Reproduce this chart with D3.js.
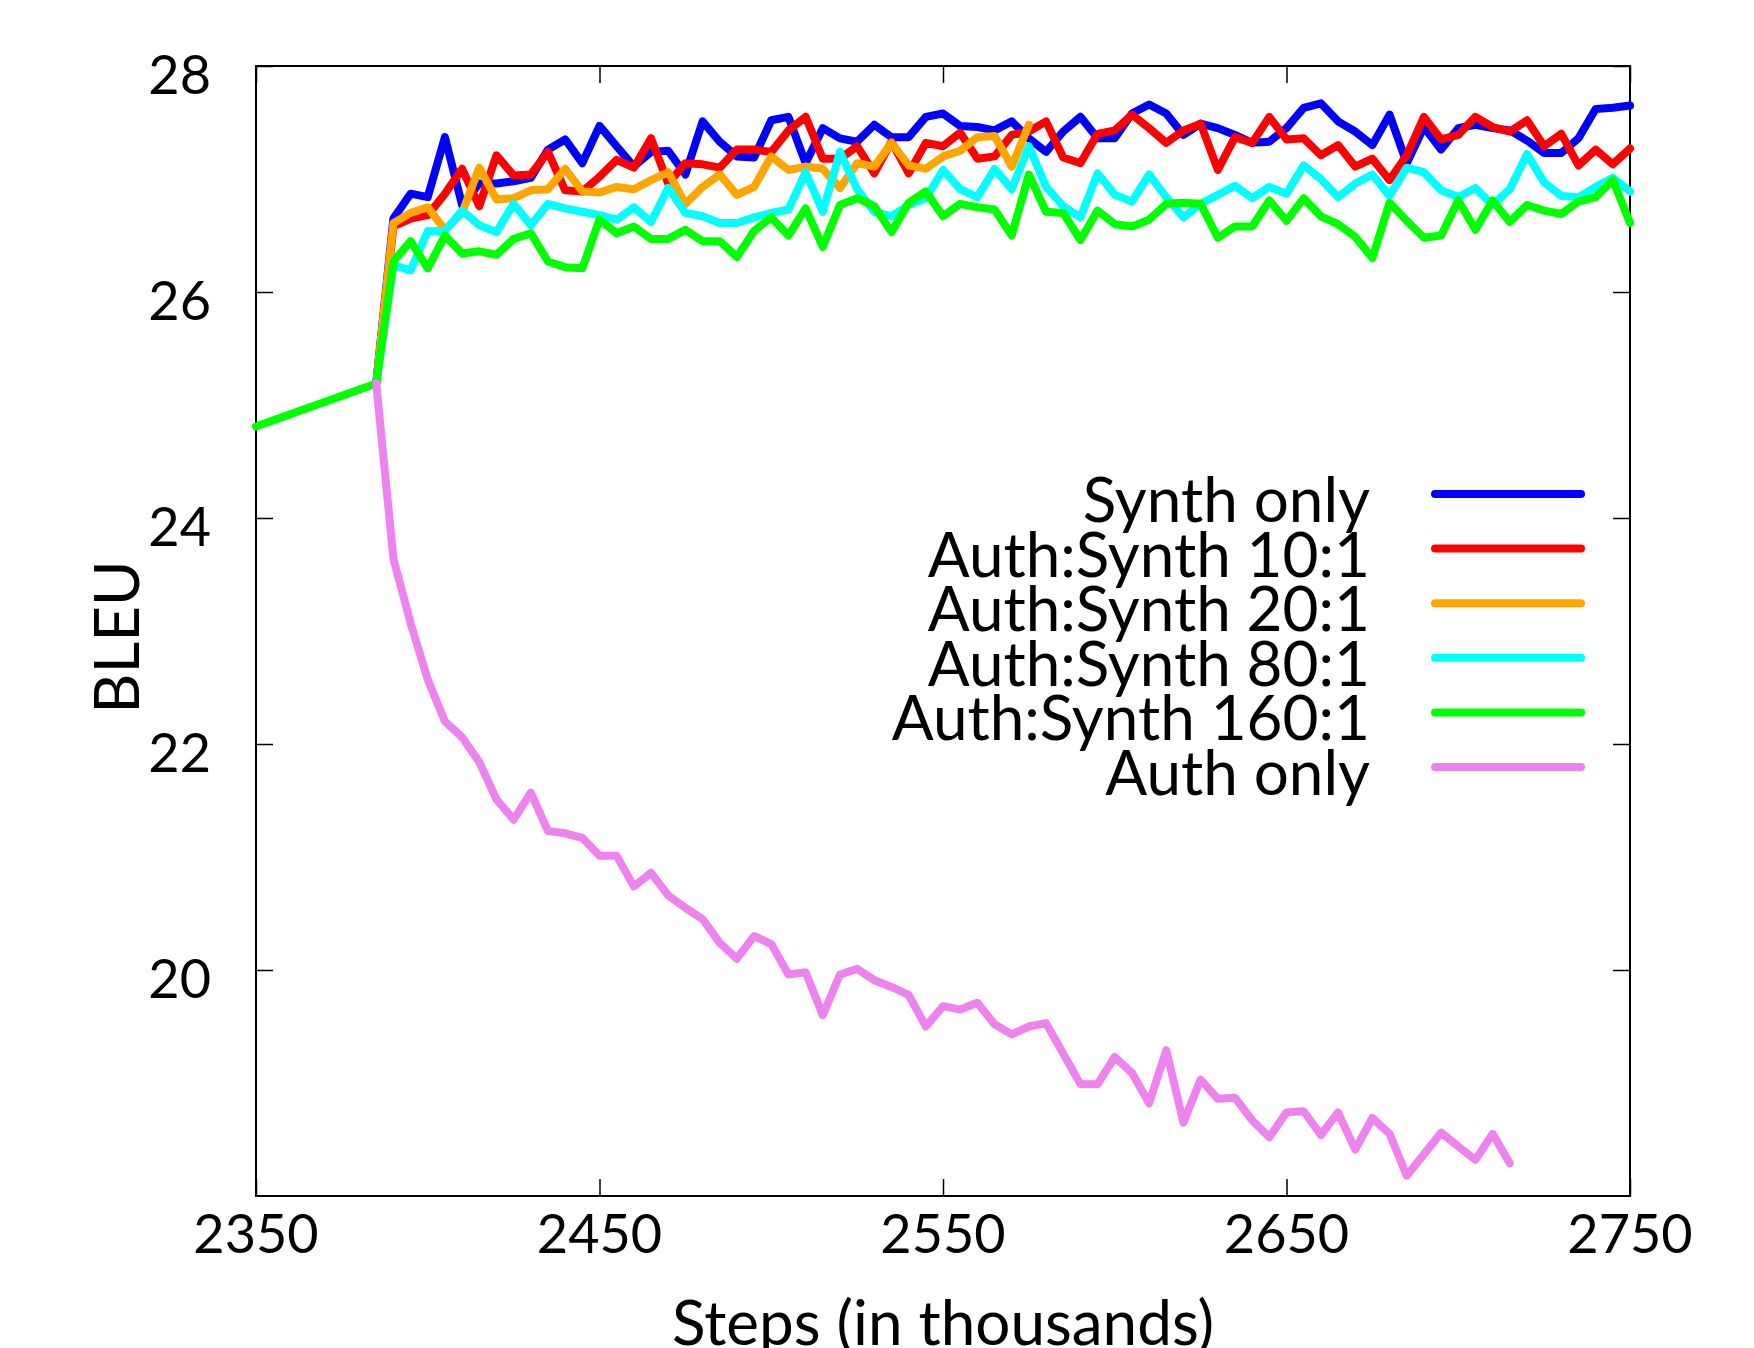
<!DOCTYPE html>
<html>
<head>
<meta charset="utf-8">
<script src="https://cdnjs.cloudflare.com/ajax/libs/d3/7.8.5/d3.min.js"></script>
<style>
    body { margin: 0; background: #ffffff; }
    text { font-family: Lato, "Open Sans", sans-serif; fill: #000000; }
</style>
</head>
<body>
<svg id="chart" width="1754" height="1348"></svg>
<script>
// steps in thousands, first point only used by the 160:1 run
var steps = [2350,
    2385, 2390, 2395, 2400, 2405, 2410, 2415, 2420, 2425, 2430, 2435, 2440, 2445, 2450,
    2455, 2460, 2465, 2470, 2475, 2480, 2485, 2490, 2495, 2500, 2505, 2510, 2515, 2520,
    2525, 2530, 2535, 2540, 2545, 2550, 2555, 2560, 2565, 2570, 2575, 2580, 2585, 2590,
    2595, 2600, 2605, 2610, 2615, 2620, 2625, 2630, 2635, 2640, 2645, 2650, 2655, 2660,
    2665, 2670, 2675, 2680, 2685, 2690, 2695, 2700, 2705, 2710, 2715, 2720, 2725, 2730,
    2735, 2740, 2745, 2750];

var synthOnly = [null,
    25.19, 26.65, 26.87, 26.84, 27.37, 26.77, 26.96, 26.96, 26.98, 27.01, 27.26, 27.35, 27.14, 27.47,
    27.29, 27.11, 27.24, 27.25, 27.04, 27.51, 27.33, 27.20, 27.19, 27.52, 27.55, 27.14, 27.45, 27.36,
    27.33, 27.48, 27.37, 27.37, 27.55, 27.58, 27.47, 27.46, 27.43, 27.51, 27.36, 27.24, 27.42, 27.55,
    27.36, 27.36, 27.58, 27.66, 27.58, 27.39, 27.49, 27.45, 27.39, 27.32, 27.33, 27.45, 27.63, 27.67,
    27.51, 27.42, 27.30, 27.57, 27.14, 27.46, 27.26, 27.45, 27.48, 27.45, 27.43, 27.34, 27.23, 27.23,
    27.36, 27.62, 27.63, 27.65];

var auth10 = [null,
    25.19, 26.58, 26.65, 26.68, 26.87, 27.09, 26.76, 27.21, 27.03, 27.04, 27.24, 26.90, 26.89, 27.02,
    27.17, 27.10, 27.36, 26.96, 27.14, 27.13, 27.10, 27.26, 27.26, 27.24, 27.43, 27.55, 27.18, 27.18,
    27.29, 27.05, 27.33, 27.05, 27.32, 27.29, 27.41, 27.18, 27.20, 27.39, 27.42, 27.51, 27.19, 27.14,
    27.40, 27.43, 27.57, 27.45, 27.32, 27.43, 27.49, 27.08, 27.37, 27.32, 27.55, 27.35, 27.36, 27.21,
    27.30, 27.11, 27.18, 26.99, 27.21, 27.55, 27.35, 27.39, 27.55, 27.46, 27.42, 27.52, 27.29, 27.40,
    27.12, 27.26, 27.13, 27.27];

var auth20 = [null,
    25.19, 26.61, 26.70, 26.75, 26.55, 26.70, 27.10, 26.82, 26.83, 26.90, 26.91, 27.09, 26.89, 26.88,
    26.93, 26.91, 26.99, 27.06, 26.78, 26.93, 27.04, 26.86, 26.93, 27.20, 27.08, 27.11, 27.09, 26.92,
    27.14, 27.11, 27.32, 27.12, 27.09, 27.20, 27.25, 27.37, 27.38, 27.11, 27.48];

var auth80 = [null,
    25.19, 26.24, 26.19, 26.54, 26.54, 26.72, 26.59, 26.53, 26.78, 26.59, 26.78, 26.74, 26.71, 26.68,
    26.64, 26.75, 26.62, 26.92, 26.70, 26.67, 26.61, 26.61, 26.66, 26.70, 26.73, 27.06, 26.71, 27.24,
    26.91, 26.71, 26.67, 26.77, 26.83, 27.08, 26.91, 26.84, 27.09, 26.91, 27.29, 26.93, 26.76, 26.66,
    27.05, 26.86, 26.80, 27.04, 26.84, 26.66, 26.78, 26.86, 26.94, 26.83, 26.93, 26.87, 27.12, 27.00,
    26.84, 26.96, 27.04, 26.85, 27.10, 27.06, 26.90, 26.84, 26.92, 26.77, 26.91, 27.22, 26.97, 26.85,
    26.84, 26.93, 27.01, 26.89];

var auth160 = [24.81,
    25.19, 26.27, 26.45, 26.21, 26.50, 26.34, 26.36, 26.33, 26.47, 26.52, 26.27, 26.22, 26.21, 26.64,
    26.52, 26.58, 26.47, 26.47, 26.55, 26.45, 26.45, 26.31, 26.54, 26.66, 26.50, 26.74, 26.40, 26.77,
    26.83, 26.76, 26.53, 26.79, 26.89, 26.67, 26.78, 26.75, 26.73, 26.50, 27.04, 26.71, 26.70, 26.46,
    26.72, 26.60, 26.58, 26.64, 26.78, 26.79, 26.78, 26.48, 26.58, 26.58, 26.81, 26.63, 26.83, 26.67,
    26.60, 26.49, 26.30, 26.79, 26.63, 26.48, 26.50, 26.81, 26.55, 26.81, 26.62, 26.77, 26.72, 26.69,
    26.80, 26.84, 26.99, 26.61];

var authOnly = [null,
    25.19, 23.64, 23.07, 22.57, 22.20, 22.06, 21.84, 21.51, 21.33, 21.57, 21.23, 21.21, 21.17, 21.01,
    21.01, 20.74, 20.86, 20.66, 20.55, 20.45, 20.24, 20.10, 20.30, 20.23, 19.96, 19.98, 19.60, 19.96,
    20.01, 19.91, 19.85, 19.78, 19.50, 19.68, 19.65, 19.71, 19.52, 19.43, 19.50, 19.53, 19.26, 18.99,
    18.99, 19.23, 19.09, 18.82, 19.29, 18.65, 19.03, 18.86, 18.87, 18.67, 18.52, 18.74, 18.75, 18.54,
    18.74, 18.41, 18.69, 18.55, 18.18, 18.37, 18.56, 18.44, 18.32, 18.55, 18.29];

var seriesNames = ["Synth only", "Auth:Synth 10:1", "Auth:Synth 20:1", "Auth:Synth 80:1", "Auth:Synth 160:1", "Auth only"];
var seriesColors = ["#0000ff", "#ff0000", "#ffa500", "#00ffff", "#00ff00", "#ee82ee"];
var seriesValues = [synthOnly, auth10, auth20, auth80, auth160, authOnly];

var xTicks = [2350, 2450, 2550, 2650, 2750];
var yTicks = [20, 22, 24, 26, 28];

var plotLeft = 256, plotRight = 1630, plotTop = 66, plotBottom = 1196;
var tickLen = 17;

var svg = d3.select("#chart");

var x = d3.scaleLinear().domain([2350, 2750]).range([plotLeft, plotRight]);
var y = d3.scaleLinear().domain([18, 28]).range([plotBottom, plotTop]);

drawAxes();
drawSeries();
drawLegend();

function drawAxes() {
    // inward ticks on all four sides, labels only left and bottom
    var axes = [
        [d3.axisBottom(x).tickValues(xTicks), "translate(0," + plotBottom + ")"],
        [d3.axisTop(x).tickValues(xTicks), "translate(0," + plotTop + ")"],
        [d3.axisLeft(y).tickValues(yTicks), "translate(" + plotLeft + ",0)"],
        [d3.axisRight(y).tickValues(yTicks), "translate(" + plotRight + ",0)"]
    ];
    axes.forEach(function (a) {
        var g = svg.append("g")
            .attr("transform", a[1])
            .call(a[0].tickSize(-tickLen).tickFormat(""));
        g.select(".domain").remove();
        g.selectAll(".tick line").attr("stroke", "#000").attr("stroke-width", 1.5);
    });

    svg.append("rect")
        .attr("x", plotLeft).attr("y", plotTop)
        .attr("width", plotRight - plotLeft).attr("height", plotBottom - plotTop)
        .attr("fill", "none").attr("stroke", "#000").attr("stroke-width", 2);

    svg.append("g").selectAll("text").data(yTicks).enter().append("text")
        .attr("x", 211)
        .attr("y", function (d) { return y(d) + 28; })
        .attr("text-anchor", "end")
        .attr("font-size", 54)
        .text(function (d) { return d; });

    svg.append("g").selectAll("text").data(xTicks).enter().append("text")
        .attr("x", function (d) { return x(d); })
        .attr("y", 1253)
        .attr("text-anchor", "middle")
        .attr("font-size", 54)
        .text(function (d) { return d; });

    svg.append("text")
        .attr("x", (plotLeft + plotRight) / 2)
        .attr("y", 1345)
        .attr("text-anchor", "middle")
        .attr("font-size", 62)
        .text("Steps (in thousands)");

    svg.append("text")
        .attr("transform", "translate(139,637) rotate(-90)")
        .attr("text-anchor", "middle")
        .attr("font-size", 62)
        .text("BLEU");
}

function drawSeries() {
    var line = d3.line()
        .defined(function (d) { return d.v != null; })
        .x(function (d) { return x(d.step); })
        .y(function (d) { return y(d.v); });

    var plot = svg.append("g");
    for (var i = 0; i < seriesValues.length; i++) {
        var pts = seriesValues[i].map(function (v, j) {
            return { step: steps[j], v: v };
        });
        plot.append("path")
            .datum(pts)
            .attr("d", line)
            .attr("fill", "none")
            .attr("stroke", seriesColors[i])
            .attr("stroke-width", 8)
            .attr("stroke-linejoin", "round")
            .attr("stroke-linecap", "round");
    }
}

function drawLegend() {
    var row0 = 494, rowH = 54.6;
    var g = svg.append("g");
    seriesNames.forEach(function (name, i) {
        var yy = row0 + i * rowH;
        g.append("text")
            .attr("x", 1370)
            .attr("y", yy + 28)
            .attr("text-anchor", "end")
            .attr("font-size", 62)
            .text(name);
        g.append("line")
            .attr("x1", 1435).attr("x2", 1581)
            .attr("y1", yy).attr("y2", yy)
            .attr("stroke", seriesColors[i])
            .attr("stroke-width", 8)
            .attr("stroke-linecap", "round");
    });
}
</script>
</body>
</html>
